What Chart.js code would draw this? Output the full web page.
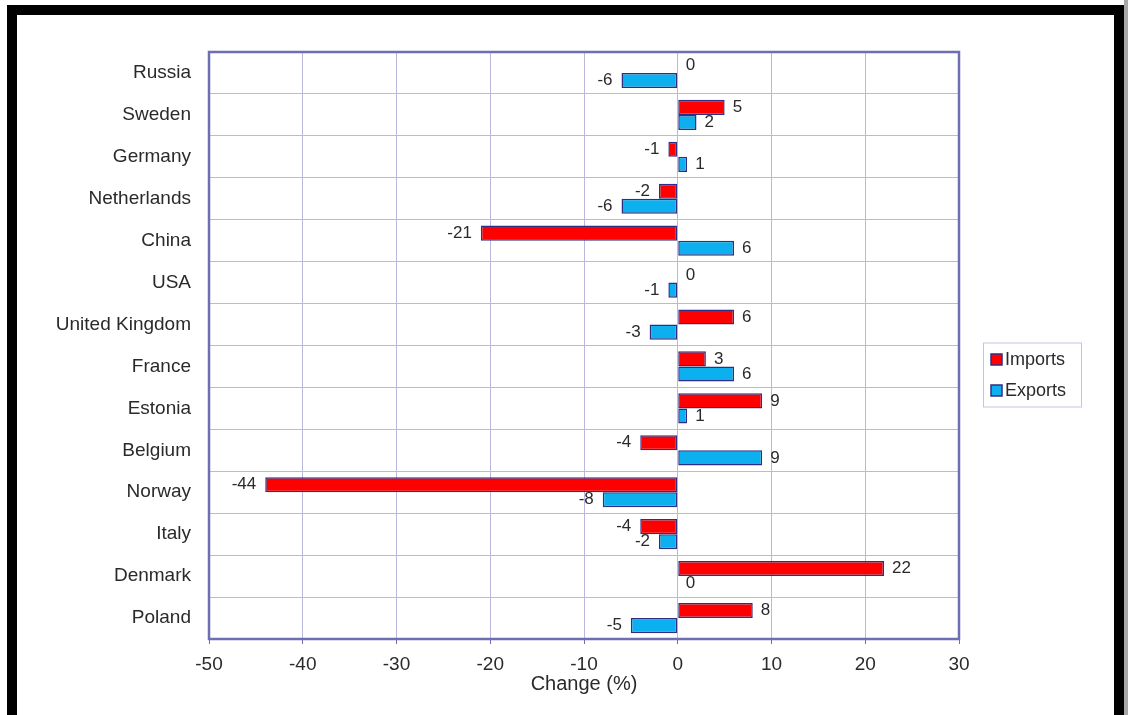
<!DOCTYPE html>
<html>
<head>
<meta charset="utf-8">
<script src="https://cdn.jsdelivr.net/npm/chart.js@4"></script>
<style>
  html, body { margin: 0; padding: 0; background: #fff; }
  #wrap { position: relative; width: 1128px; height: 715px; overflow: hidden; }
  #c { position: absolute; left: 0; top: 0; }
  #frame { position: absolute; left: 7px; top: 5px; width: 1097px; height: 720px; border: 10px solid #000; box-sizing: content-box; pointer-events: none; }
  #edge { position: absolute; left: 1124px; top: 0; width: 4px; height: 715px; background: #a8a8a8; }
</style>
</head>
<body>
<div id="wrap">
  <canvas id="c" width="1128" height="715"></canvas>
  <div id="frame"></div>
  <div id="edge"></div>
</div>
<script>
const categories = ["Russia", "Sweden", "Germany", "Netherlands", "China", "USA", "United Kingdom", "France", "Estonia", "Belgium", "Norway", "Italy", "Denmark", "Poland"];
const imports = [0, 5, -1, -2, -21, 0, 6, 3, 9, -4, -44, -4, 22, 8];
const exports = [-6, 2, 1, -6, 6, -1, -3, 6, 1, 9, -8, -2, 0, -5];
const seriesNames = ["Imports", "Exports"];
const xTicks = [-50, -40, -30, -20, -10, 0, 10, 20, 30];
const axisTitle = "Change (%)";

const FONT = "'Liberation Sans', Arial, sans-serif";
const TEXT = "#2a2a2a";
const GRID = "#b9b9dd";
const BORDER = "#6e6eb2";
const BAR_BORDER = "#2e2e86";

const boxPlugin = {
  id: 'plotBox',
  beforeDatasetsDraw(chart) {
    const a = chart.chartArea, ctx = chart.ctx;
    ctx.save();
    ctx.strokeStyle = BORDER;
    ctx.lineWidth = 2.5;
    ctx.strokeRect(a.left, a.top, a.right - a.left, a.bottom - a.top);
    ctx.restore();
  }
};

const labelPlugin = {
  id: 'valueLabels',
  afterDatasetsDraw(chart) {
    const ctx = chart.ctx;
    ctx.save();
    ctx.font = "17px " + FONT;
    ctx.fillStyle = TEXT;
    ctx.textBaseline = 'middle';
    chart.data.datasets.forEach((ds, di) => {
      const meta = chart.getDatasetMeta(di);
      meta.data.forEach((el, i) => {
        const v = ds.data[i];
        if (v >= 0) {
          ctx.textAlign = 'left';
          ctx.fillText(String(v), el.x + 8, el.y);
        } else {
          ctx.textAlign = 'right';
          ctx.fillText(String(v), el.x - 9, el.y);
        }
      });
    });
    ctx.restore();
  }
};

const legendPlugin = {
  id: 'boxLegend',
  afterDraw(chart) {
    const a = chart.chartArea, ctx = chart.ctx;
    const left = a.right + 24, width = 98, height = 64;
    const top = (a.top + a.bottom) / 2 + 29 - height / 2;
    ctx.save();
    ctx.strokeStyle = "#c4c4e2";
    ctx.lineWidth = 1;
    ctx.strokeRect(left + 0.5, top + 0.5, width, height);
    ctx.font = "18px " + FONT;
    ctx.textBaseline = 'middle';
    ctx.textAlign = 'left';
    chart.data.datasets.forEach((ds, i) => {
      const cy = top + 17 + i * 31;
      ctx.fillStyle = ds.backgroundColor;
      ctx.fillRect(left + 8, cy - 5.5, 11, 11);
      ctx.strokeStyle = BAR_BORDER;
      ctx.lineWidth = 1.5;
      ctx.strokeRect(left + 8, cy - 5.5, 11, 11);
      ctx.fillStyle = TEXT;
      ctx.fillText(ds.label, left + 22, cy + 1);
    });
    ctx.restore();
  }
};

new Chart(document.getElementById('c'), {
  type: 'bar',
  data: {
    labels: categories,
    datasets: [
      { label: seriesNames[0], data: imports, backgroundColor: '#ff0000', borderColor: BAR_BORDER, borderWidth: 1.5, borderSkipped: false },
      { label: seriesNames[1], data: exports, backgroundColor: '#0cb0ee', borderColor: BAR_BORDER, borderWidth: 1.5, borderSkipped: false }
    ]
  },
  options: {
    indexAxis: 'y',
    responsive: false,
    animation: false,
    devicePixelRatio: 1,
    layout: { padding: { left: 0, top: 52, right: 169, bottom: 0 } },
    datasets: { bar: { categoryPercentage: 0.72, barPercentage: 1.0 } },
    plugins: { legend: { display: false }, tooltip: { enabled: false } },
    scales: {
      x: {
        type: 'linear',
        min: -50, max: 30,
        afterBuildTicks(scale) { scale.ticks = xTicks.map(v => ({ value: v })); },
        afterFit(scale) { scale.height = 76; },
        grid: { color: GRID, lineWidth: 1, drawTicks: true, tickLength: 5, tickColor: BORDER },
        border: { display: false },
        ticks: { color: TEXT, font: { family: FONT, size: 19 }, padding: 9, autoSkip: false, maxRotation: 0 },
        title: { display: true, text: axisTitle, color: TEXT, font: { family: FONT, size: 20 }, padding: { top: 0, bottom: 19 } }
      },
      y: {
        afterFit(scale) { scale.width = 209; },
        grid: { color: GRID, lineWidth: 1, drawTicks: false, offset: true },
        border: { display: false },
        ticks: { color: TEXT, font: { family: FONT, size: 19 }, padding: 18, autoSkip: false }
      }
    }
  },
  plugins: [boxPlugin, labelPlugin, legendPlugin]
});
</script>
</body>
</html>
